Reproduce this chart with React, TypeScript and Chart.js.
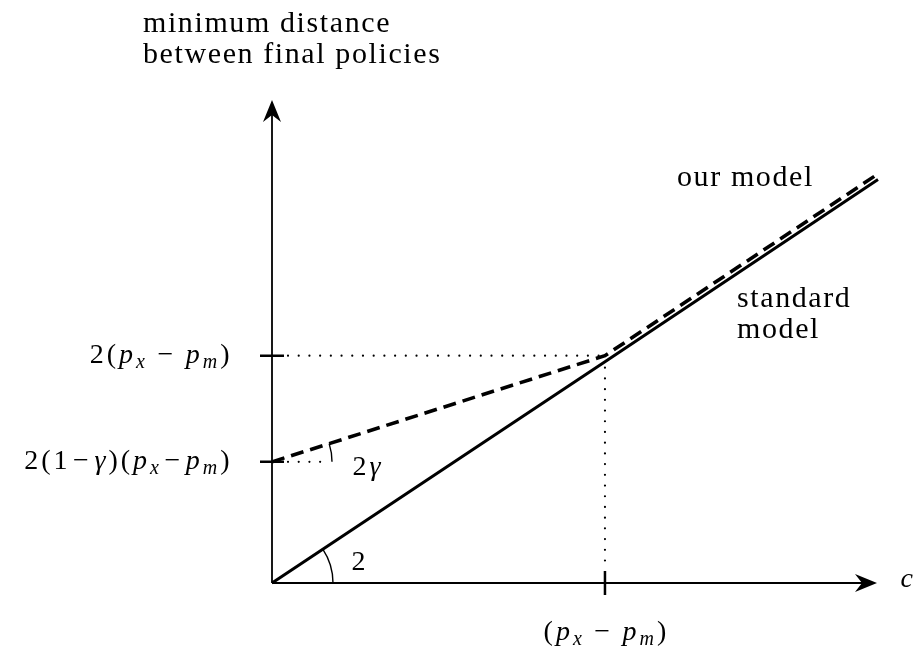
import React, { useEffect, useRef } from "react";
import { Chart, registerables } from "chart.js";

Chart.register(...registerables);

// ---- data ----
const X_VALUES = [0, 1, 1.82];
const STANDARD_MODEL = [0, 1.947, 3.55];
const OUR_MODEL = [1.066, 2, 3.6];
const X_TICKS = [1];
const X_TICK_LABELS = ["(p_x − p_m)"];
const Y_TICKS = [2, 1.066];
const Y_TICK_LABELS = ["2(p_x − p_m)", "2(1−γ)(p_x−p_m)"];
const Y_AXIS_TITLE = ["minimum distance", "between final policies"];
const X_AXIS_TITLE = "c";
const SERIES_NAMES = ["standard model", "our model"];
const ANGLE_LABELS = ["2", "2γ"];
const X_MAX = 1.82;
const Y_MAX = 4.25;

const FONT = '"Liberation Serif", "DejaVu Serif", serif';
const FS = 28;
const TEXT_FS = 30;

type Seg = { t: string; it: boolean; sub: boolean };

function parseMath(s: string): Seg[] {
  const out: Seg[] = [];
  for (let i = 0; i < s.length; i++) {
    let ch = s[i];
    let sub = false;
    if (ch === "_") {
      sub = true;
      i++;
      ch = s[i];
    }
    const it = /[a-zA-Zγ]/.test(ch);
    out.push({ t: ch, it, sub });
  }
  return out;
}

function drawMath(ctx: CanvasRenderingContext2D, s: string, x: number, y: number, align: "left" | "right" | "center", size = FS) {
  const segs = parseMath(s);
  const fontOf = (g: Seg) => `${g.it ? "italic " : ""}${g.sub ? Math.round(size * 0.7) : size}px ${FONT}`;
  const pads = segs.map((g) => (g.t === " " ? 0 : g.t === "−" ? 4 : 1.5));
  let total = 0;
  const widths = segs.map((g, i) => {
    ctx.font = fontOf(g);
    const w = ctx.measureText(g.t).width + pads[i] * 2;
    total += w;
    return w;
  });
  let cx = align === "left" ? x : align === "right" ? x - total : x - total / 2;
  ctx.textAlign = "left";
  ctx.textBaseline = "alphabetic";
  segs.forEach((g, i) => {
    ctx.font = fontOf(g);
    ctx.fillText(g.t, cx + pads[i], y + (g.sub ? size * 0.18 : 0));
    cx += widths[i];
  });
}

function arrowHead(ctx: CanvasRenderingContext2D, tx: number, ty: number, dirx: number, diry: number) {
  const L = 22, W = 9, N = 7;
  const px = -diry, py = dirx;
  ctx.beginPath();
  ctx.moveTo(tx, ty);
  ctx.lineTo(tx - dirx * L + px * W, ty - diry * L + py * W);
  ctx.lineTo(tx - dirx * (L - N), ty - diry * (L - N));
  ctx.lineTo(tx - dirx * L - px * W, ty - diry * L - py * W);
  ctx.closePath();
  ctx.fill();
}

const decorPlugin = {
  id: "decor",
  beforeDatasetsDraw(chart: any) {
    const ctx: CanvasRenderingContext2D = chart.ctx;
    const xs = chart.scales.x;
    const ys = chart.scales.y;
    const x0 = xs.getPixelForValue(0);
    const y0 = ys.getPixelForValue(0);
    ctx.save();
    ctx.strokeStyle = "#000";
    ctx.fillStyle = "#000";
    // axes
    ctx.lineWidth = 1.8;
    ctx.beginPath();
    ctx.moveTo(x0, y0);
    ctx.lineTo(xs.getPixelForValue(X_MAX) - 6, y0);
    ctx.moveTo(x0, y0);
    ctx.lineTo(x0, ys.getPixelForValue(Y_MAX) + 6);
    ctx.stroke();
    arrowHead(ctx, xs.getPixelForValue(X_MAX) - 1, y0, 1, 0);
    arrowHead(ctx, x0, ys.getPixelForValue(Y_MAX), 0, -1);

    // ticks
    ctx.lineWidth = 2.5;
    ctx.beginPath();
    X_TICKS.forEach((v) => {
      const px = xs.getPixelForValue(v);
      ctx.moveTo(px, y0 - 12);
      ctx.lineTo(px, y0 + 12);
    });
    Y_TICKS.forEach((v) => {
      const py = ys.getPixelForValue(v);
      ctx.moveTo(x0 - 12, py);
      ctx.lineTo(x0 + 12, py);
    });
    ctx.stroke();

    // dotted guides
    ctx.lineWidth = 2.2;
    ctx.lineCap = "round";
    ctx.setLineDash([0.01, 10.7]);
    const cx = xs.getPixelForValue(X_TICKS[0]);
    const cy = ys.getPixelForValue(Y_TICKS[0]);
    ctx.beginPath();
    ctx.moveTo(x0 + 16, cy);
    ctx.lineTo(cx - 4, cy);
    ctx.moveTo(cx, cy + 12);
    ctx.lineTo(cx, y0 - 14);
    const gy = ys.getPixelForValue(Y_TICKS[1]);
    ctx.moveTo(x0 + 16, gy);
    ctx.lineTo(x0 + 56, gy);
    ctx.stroke();
    ctx.setLineDash([]);
    ctx.lineCap = "butt";

    // angle arcs
    const sx2 = xs.getPixelForValue(X_VALUES[2]);
    const aSolid = Math.atan2(y0 - ys.getPixelForValue(STANDARD_MODEL[2]), sx2 - x0);
    const sx1 = xs.getPixelForValue(X_VALUES[1]);
    const aDash = Math.atan2(ys.getPixelForValue(OUR_MODEL[0]) - ys.getPixelForValue(OUR_MODEL[1]), sx1 - x0);
    ctx.lineWidth = 1.4;
    ctx.beginPath();
    ctx.arc(x0, y0, 61, -aSolid, 0);
    ctx.stroke();
    ctx.beginPath();
    ctx.arc(x0, gy, 60, -aDash, 0);
    ctx.stroke();

    // texts
    drawMath(ctx, ANGLE_LABELS[0], x0 + 78, y0 - 13, "left");
    drawMath(ctx, ANGLE_LABELS[1], x0 + 79, gy + 13, "left");
    Y_TICKS.forEach((v, i) => {
      drawMath(ctx, Y_TICK_LABELS[i], x0 - 41, ys.getPixelForValue(v) + 7, "right");
    });
    X_TICKS.forEach((v, i) => {
      drawMath(ctx, X_TICK_LABELS[i], xs.getPixelForValue(v), y0 + 57, "center");
    });
    drawMath(ctx, X_AXIS_TITLE, x0 + 627, y0 + 4, "left");
    ctx.font = `${TEXT_FS}px ${FONT}`;
    ctx.textAlign = "left";
    (ctx as any).letterSpacing = "1.6px";
    ctx.fillText(Y_AXIS_TITLE[0], x0 - 129, 32);
    ctx.fillText(Y_AXIS_TITLE[1], x0 - 129, 63);
    ctx.fillText(SERIES_NAMES[1], 677, 186);
    const sm = SERIES_NAMES[0].split(" ");
    ctx.fillText(sm[0], 737, 307);
    ctx.fillText(sm[1], 737, 338);
    (ctx as any).letterSpacing = "0px";
    ctx.restore();
  },
};

export default function App() {
  const ref = useRef<HTMLCanvasElement>(null);
  useEffect(() => {
    document.body.style.margin = "0";
    let chart: Chart | null = null;
    let cancelled = false;
    const build = () => {
      if (cancelled || !ref.current) return;
      chart = new Chart(ref.current, {
        type: "line",
        data: {
          datasets: [
            {
              label: SERIES_NAMES[1],
              data: X_VALUES.map((x, i) => ({ x, y: OUR_MODEL[i] })),
              borderColor: "#000",
              borderWidth: 3.6,
              borderDash: [13, 7],
              pointRadius: 0,
              tension: 0,
              clip: false as any,
            },
            {
              label: SERIES_NAMES[0],
              data: X_VALUES.map((x, i) => ({ x, y: STANDARD_MODEL[i] })),
              borderColor: "#000",
              borderWidth: 3,
              pointRadius: 0,
              tension: 0,
              clip: false as any,
            },
          ],
        },
        options: {
          animation: false,
          responsive: false,
          devicePixelRatio: 1,
          layout: { padding: { left: 272, right: 922 - 878, top: 100, bottom: 71 } },
          plugins: { legend: { display: false }, tooltip: { enabled: false } },
          scales: {
            x: { type: "linear", min: 0, max: X_MAX, display: false },
            y: { type: "linear", min: 0, max: Y_MAX, display: false },
          },
        },
        plugins: [decorPlugin],
      });
    };
    const fonts: any = (document as any).fonts;
    if (fonts && fonts.load) {
      Promise.all([
        fonts.load(`${FS}px "Liberation Serif"`),
        fonts.load(`italic ${FS}px "Liberation Serif"`),
      ]).then(build, build);
    } else {
      build();
    }
    return () => {
      cancelled = true;
      if (chart) chart.destroy();
    };
  }, []);
  return (
    <div style={{ position: "absolute", left: 0, top: 0, width: 922, height: 654, background: "#fff" }}>
      <canvas ref={ref} width={922} height={654} />
    </div>
  );
}
